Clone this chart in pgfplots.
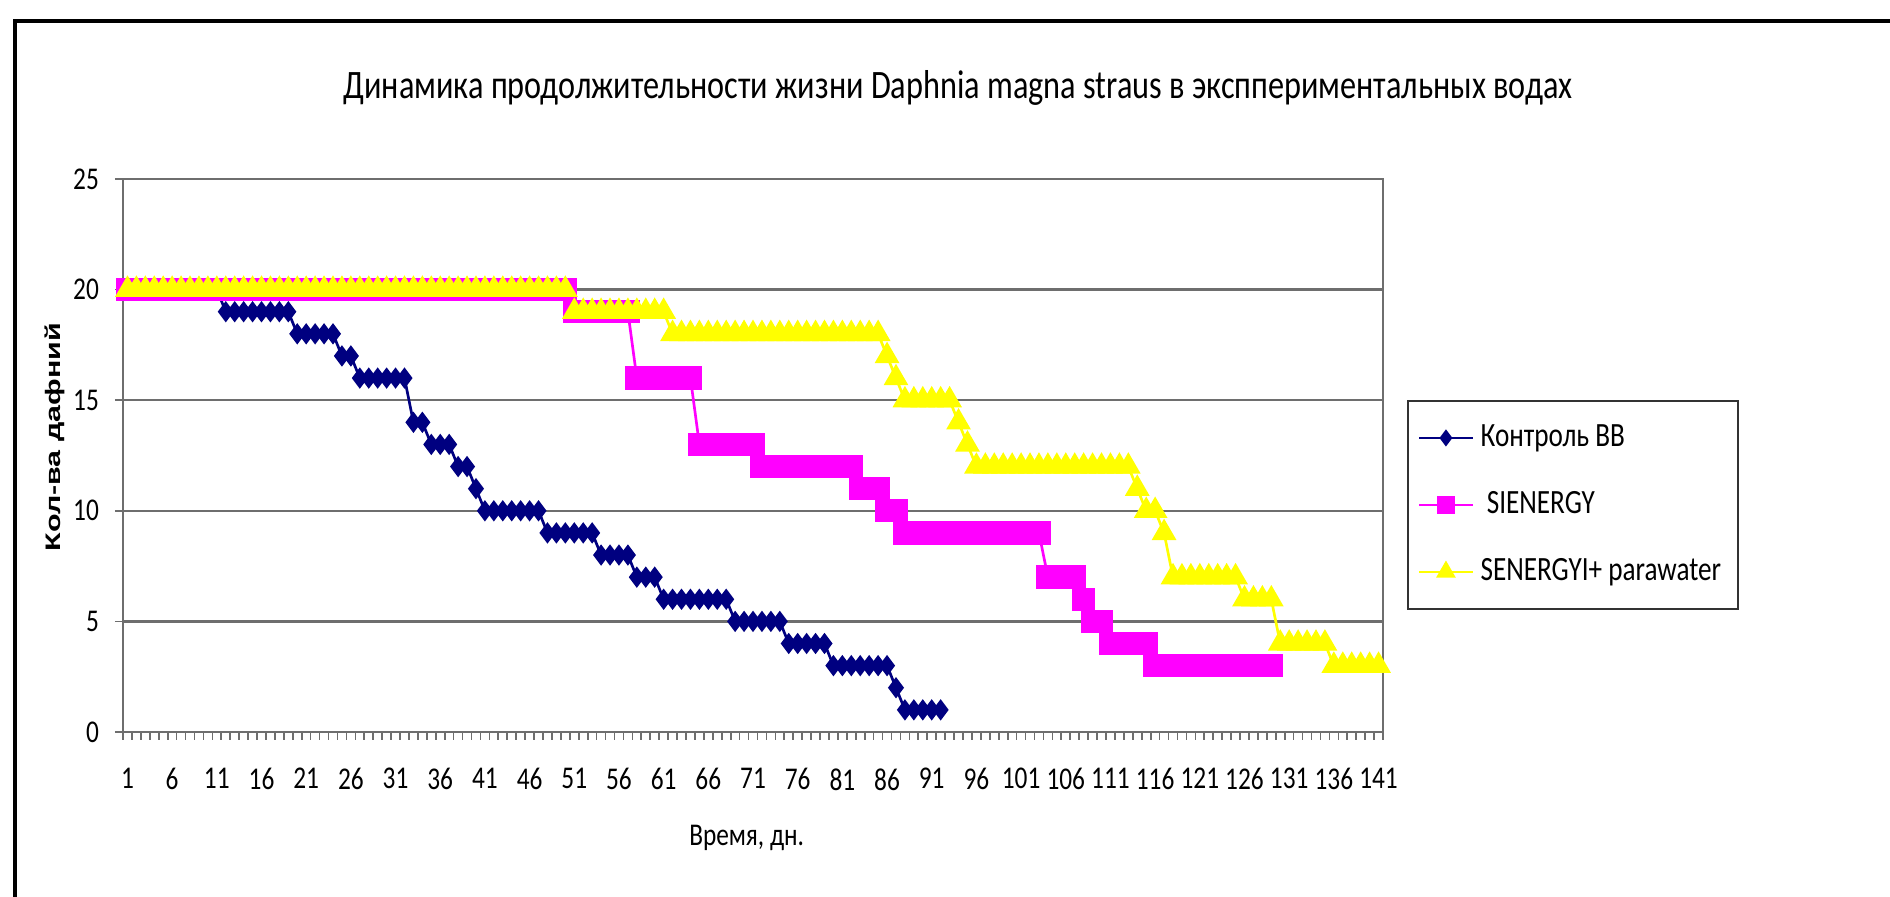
\documentclass[border=0pt]{standalone}
\usepackage{pgfplots}
\pgfplotsset{compat=1.18}
\usepackage{fontspec}
\setmainfont{Carlito}[FakeStretch=0.8]
\newfontfamily\ylabfont{Liberation Sans}[FakeStretch=1.45]
\definecolor{ser1}{RGB}{0,0,128}
\definecolor{ser2}{RGB}{255,0,255}
\definecolor{ser3}{RGB}{255,255,0}
\definecolor{gridc}{RGB}{110,110,110}

\begin{document}
\begin{tikzpicture}
\path[use as bounding box] (0,0) rectangle (567pt,-269.1pt);
% chart frame
\draw[line width=1.2pt] (4.5pt,-300pt) -- (4.5pt,-6.3pt) -- (600pt,-6.3pt);
\node[font=\fontsize{12.1}{14}\selectfont] at (287.4pt,-26.4pt)
  {Динамика продолжительности жизни Daphnia magna straus в эксппериментальных водах};
\begin{axis}[
  at={(36.9pt,-219.6pt)}, anchor=south west,
  scale only axis, width=378pt, height=165.9pt,
  xmin=0.5, xmax=141.5, ymin=0, ymax=25,
  xtick={1,6,...,141}, ytick={0,5,...,25},
  minor xtick={0.5,1.5,...,141.5},
  xtick pos=bottom, ytick pos=left,
  ymajorgrids, grid style={gridc, line width=0.7pt},
  axis line style={gridc, line width=0.7pt},
  tick align=outside, major tick length=2.4pt, minor tick length=2.4pt,
  tick style={gridc, line width=0.5pt},
  major x tick style={draw=none},
  ticklabel style={font=\fontsize{9.5}{11}\selectfont, /pgf/number format/assume math mode=true},
  xticklabel style={yshift=-5pt},
  yticklabel style={xshift=-1.3pt},
  xlabel={Время, дн.},
  xlabel style={font=\fontsize{9.5}{11}\selectfont, at={(axis description cs:0.495,-0.192)}, anchor=center},
  ylabel={Кол-ва дафний},
  ylabel style={font=\ylabfont\bfseries\fontsize{6.3}{8}\selectfont, at={(axis description cs:-0.054,0.533)}, anchor=center},
  clip=false,
  legend cell align=left,
  legend style={at={(1.019,0.600)}, anchor=north west, draw=black!80, line width=0.6pt,
    font=\fontsize{10.2}{12}\selectfont, row sep=8pt, inner xsep=3pt, inner ysep=5pt},
  legend image code/.code={\draw[mark repeat=2,mark phase=2, mark options={scale=0.75}] plot coordinates {(0pt,0pt) (8pt,0pt) (16pt,0pt)};},
]
\addplot[ser1, line width=0.8pt, mark=diamond*, mark size=2.55pt, mark options={solid, fill=ser1}] coordinates {
(1,20)(2,20)(3,20)(4,20)(5,20)(6,20)(7,20)(8,20)(9,20)(10,20)(11,20)
(12,19)(13,19)(14,19)(15,19)(16,19)(17,19)(18,19)(19,19)
(20,18)(21,18)(22,18)(23,18)(24,18)
(25,17)(26,17)
(27,16)(28,16)(29,16)(30,16)(31,16)(32,16)
(33,14)(34,14)
(35,13)(36,13)(37,13)
(38,12)(39,12)
(40,11)
(41,10)(42,10)(43,10)(44,10)(45,10)(46,10)(47,10)
(48,9)(49,9)(50,9)(51,9)(52,9)(53,9)
(54,8)(55,8)(56,8)(57,8)
(58,7)(59,7)(60,7)
(61,6)(62,6)(63,6)(64,6)(65,6)(66,6)(67,6)(68,6)
(69,5)(70,5)(71,5)(72,5)(73,5)(74,5)
(75,4)(76,4)(77,4)(78,4)(79,4)
(80,3)(81,3)(82,3)(83,3)(84,3)(85,3)(86,3)
(87,2)
(88,1)(89,1)(90,1)(91,1)(92,1)
};
\addlegendentry{Контроль ВВ}
\addplot[ser2, line width=0.8pt, mark=square*, mark size=3.1pt, mark options={solid, fill=ser2}] coordinates {
(1,20)(2,20)(3,20)(4,20)(5,20)(6,20)(7,20)(8,20)(9,20)(10,20)
(11,20)(12,20)(13,20)(14,20)(15,20)(16,20)(17,20)(18,20)(19,20)(20,20)
(21,20)(22,20)(23,20)(24,20)(25,20)(26,20)(27,20)(28,20)(29,20)(30,20)
(31,20)(32,20)(33,20)(34,20)(35,20)(36,20)(37,20)(38,20)(39,20)(40,20)
(41,20)(42,20)(43,20)(44,20)(45,20)(46,20)(47,20)(48,20)(49,20)(50,20)
(51,19)(52,19)(53,19)(54,19)(55,19)(56,19)(57,19)
(58,16)(59,16)(60,16)(61,16)(62,16)(63,16)(64,16)
(65,13)(66,13)(67,13)(68,13)(69,13)(70,13)(71,13)
(72,12)(73,12)(74,12)(75,12)(76,12)(77,12)(78,12)(79,12)(80,12)(81,12)(82,12)
(83,11)(84,11)(85,11)
(86,10)(87,10)
(88,9)(89,9)(90,9)(91,9)(92,9)(93,9)(94,9)(95,9)(96,9)(97,9)(98,9)(99,9)(100,9)(101,9)(102,9)(103,9)
(104,7)(105,7)(106,7)(107,7)
(108,6)
(109,5)(110,5)
(111,4)(112,4)(113,4)(114,4)(115,4)
(116,3)(117,3)(118,3)(119,3)(120,3)(121,3)(122,3)(123,3)(124,3)(125,3)(126,3)(127,3)(128,3)(129,3)
};
\addlegendentry{\ SIENERGY}
\addplot[ser3, line width=0.8pt, mark=triangle*, mark size=3.5pt, mark options={solid, fill=ser3}] coordinates {
(1,20)(2,20)(3,20)(4,20)(5,20)(6,20)(7,20)(8,20)(9,20)(10,20)
(11,20)(12,20)(13,20)(14,20)(15,20)(16,20)(17,20)(18,20)(19,20)(20,20)
(21,20)(22,20)(23,20)(24,20)(25,20)(26,20)(27,20)(28,20)(29,20)(30,20)
(31,20)(32,20)(33,20)(34,20)(35,20)(36,20)(37,20)(38,20)(39,20)(40,20)
(41,20)(42,20)(43,20)(44,20)(45,20)(46,20)(47,20)(48,20)(49,20)(50,20)
(51,19)(52,19)(53,19)(54,19)(55,19)(56,19)(57,19)(58,19)(59,19)(60,19)(61,19)
(62,18)(63,18)(64,18)(65,18)(66,18)(67,18)(68,18)(69,18)(70,18)(71,18)(72,18)(73,18)
(74,18)(75,18)(76,18)(77,18)(78,18)(79,18)(80,18)(81,18)(82,18)(83,18)(84,18)(85,18)
(86,17)
(87,16)
(88,15)(89,15)(90,15)(91,15)(92,15)(93,15)
(94,14)
(95,13)
(96,12)(97,12)(98,12)(99,12)(100,12)(101,12)(102,12)(103,12)(104,12)
(105,12)(106,12)(107,12)(108,12)(109,12)(110,12)(111,12)(112,12)(113,12)
(114,11)
(115,10)(116,10)
(117,9)
(118,7)(119,7)(120,7)(121,7)(122,7)(123,7)(124,7)(125,7)
(126,6)(127,6)(128,6)(129,6)
(130,4)(131,4)(132,4)(133,4)(134,4)(135,4)
(136,3)(137,3)(138,3)(139,3)(140,3)(141,3)
};
\addlegendentry{SENERGYI+ parawater}
\end{axis}
\end{tikzpicture}
\end{document}
